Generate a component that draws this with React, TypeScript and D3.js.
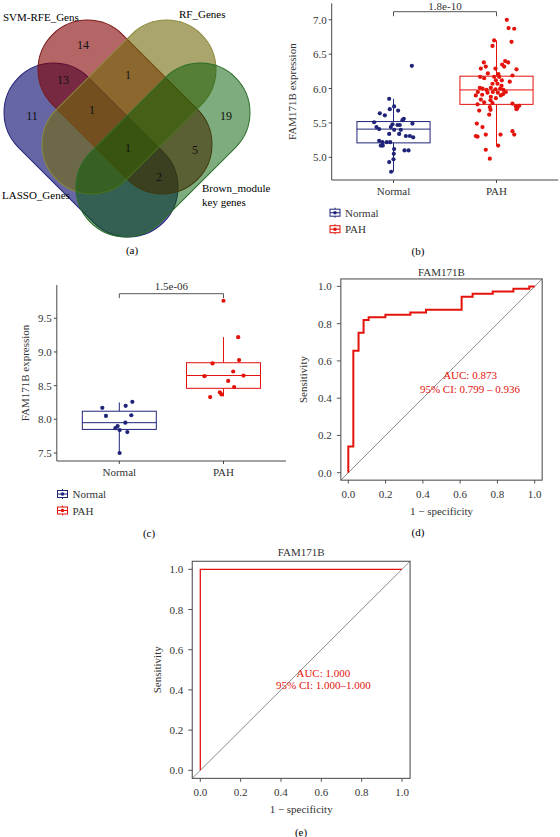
import React from 'react';
import * as d3 from 'd3';

const FONT = '"Liberation Serif", "DejaVu Serif", serif';
const NAVY = '#1f2478';
const RED = '#e3120b';
const AXIS = '#333333';

// ---------- Venn (a) ----------
const vennSetNames = ['LASSO_Genes', 'SVM-RFE_Gens', 'RF_Genes', 'Brown_module'];
const vennRegionNames = ['SVM-RFE', 'SVM-RFE&RF', 'LASSO&SVM-RFE', 'LASSO', 'LASSO&SVM-RFE&RF', 'Brown', 'All', 'SVM-RFE&Brown', 'LASSO&SVM-RFE&Brown'];
const vennCounts = [14, 1, 13, 11, 1, 19, 1, 5, 2];

// layout (positions only), drawn in this order
const vennShapeLayout = [
  { cx: 91, cy: 150, angle: 45, fill: '#000068', op: 0.6, stroke: '#23237a' },
  { cx: 125, cy: 107, angle: 45, fill: '#820000', op: 0.6, stroke: '#7c1a1a' },
  { cx: 129, cy: 107, angle: -45, fill: '#71690a', op: 0.6, stroke: '#8c8a3c' },
  { cx: 163, cy: 150, angle: -45, fill: '#005a00', op: 0.5, stroke: '#2a6e2a' },
];
const vennLabelPos = [[83, 45], [128, 75], [63, 80], [32, 116], [92, 110], [226, 116], [128, 148], [195, 150], [159, 177]];

// ---------- Box (b) ----------
const groups = ['Normal', 'PAH'];
const bNormalVals = [6.33,5.85,5.74,5.70,5.68,5.64,5.61,5.56,5.54,5.51,5.49,5.48,5.47,5.44,5.41,5.40,5.40,5.44,5.47,5.34,5.34,5.31,5.31,5.29,5.24,5.22,5.22,5.22,5.17,5.17,5.12,5.10,5.10,5.05,4.97,4.93,4.79];
const bNormalJit = [0.178,-0.042,0.006,-0.036,0.045,-0.133,-0.084,0.100,0.087,-0.188,0.184,-0.010,0.039,-0.165,-0.139,0.006,0.071,-0.026,0.061,-0.042,0.055,0.120,0.159,0.191,-0.139,-0.107,-0.065,-0.032,-0.123,-0.104,0.006,0.146,0.107,0.003,0.000,-0.042,-0.023];
const bPAHVals = [7.00,6.88,6.87,6.68,6.70,6.62,6.38,6.40,6.38,6.35,6.32,6.29,6.28,6.32,6.29,6.22,6.21,6.19,6.17,6.17,6.17,6.15,6.12,6.10,6.12,6.07,6.07,6.04,6.01,6.00,6.01,5.99,6.00,5.98,5.98,5.95,5.95,5.95,5.94,5.94,5.90,5.91,5.92,5.88,5.86,5.90,5.84,5.83,5.80,5.79,5.78,5.77,5.74,5.75,5.72,5.73,5.70,5.69,5.68,5.62,5.49,5.44,5.38,5.33,5.31,5.30,5.33,5.33,5.17,5.11,4.98];
const bPAHJit = [0.100,0.117,0.172,0.146,-0.023,-0.039,-0.123,0.084,0.113,0.055,-0.104,-0.152,0.194,0.074,-0.010,-0.084,0.019,0.155,-0.159,-0.023,0.026,-0.120,-0.006,0.129,0.052,-0.039,0.010,0.049,-0.162,-0.136,-0.055,-0.010,0.036,0.068,-0.097,-0.181,0.091,-0.036,0.013,-0.087,-0.201,-0.139,0.065,-0.055,-0.006,0.042,-0.152,-0.058,-0.120,-0.039,0.155,-0.184,0.188,0.220,0.204,-0.065,0.194,-0.058,-0.168,-0.071,-0.191,-0.136,0.155,0.172,-0.201,-0.184,-0.104,0.039,0.016,-0.104,-0.065];
// [lower whisker, q1, median, q3, upper whisker]
const bNormalBox = [4.79, 5.21, 5.41, 5.52, 5.85];
const bPAHBox = [5.17, 5.77, 5.98, 6.18, 6.70];
const bTicks = [5.0, 5.5, 6.0, 6.5, 7.0];
const bPValue = '1.8e-10';

// ---------- Box (c) ----------
const cNormalVals = [8.17, 8.05, 8.20, 8.26, 8.06, 7.95, 7.90, 7.87, 7.84, 7.81, 7.50];
const cNormalJit = [-0.163, -0.128, 0.061, 0.125, 0.115, 0.058, -0.016, -0.038, 0.003, 0.077, 0.003];
const cPAHVals = [9.76, 9.22, 8.88, 8.83, 8.71, 8.64, 8.65, 8.57, 8.48, 8.40, 8.37, 8.33];
const cPAHJit = [0.000, 0.141, 0.150, -0.105, 0.093, -0.182, 0.192, 0.045, 0.102, -0.035, -0.019, -0.128];
const cNormalBox = [7.50, 7.85, 7.95, 8.12, 8.25];
const cPAHBox = [8.34, 8.46, 8.65, 8.84, 9.22];
const cTicks = [7.5, 8.0, 8.5, 9.0, 9.5];
const cPValue = '1.5e-06';

// ---------- ROC (d), (e) ----------
const dFpr = [0, 0, 0.027, 0.027, 0.055, 0.055, 0.082, 0.082, 0.109, 0.109, 0.199, 0.199, 0.333, 0.333, 0.417, 0.417, 0.608, 0.608, 0.667, 0.667, 0.775, 0.775, 0.886, 0.886, 0.971, 0.971, 1];
const dTpr = [0, 0.14, 0.14, 0.655, 0.655, 0.751, 0.751, 0.819, 0.819, 0.834, 0.834, 0.848, 0.848, 0.86, 0.86, 0.875, 0.875, 0.945, 0.945, 0.96, 0.96, 0.973, 0.973, 0.987, 0.987, 1, 1];
const eFpr = [0, 0, 1];
const eTpr = [0, 1, 1];
const rocTicks = [0, 0.2, 0.4, 0.6, 0.8, 1.0];
const dAuc = ['AUC: 0.873', '95% CI: 0.799 – 0.936'];
const eAuc = ['AUC: 1.000', '95% CI: 1.000–1.000'];
const rocTitle = 'FAM171B';

function Venn() {
  const L = 106, r = 49.5;
  return (
    <g>
      {vennShapeLayout.map((s, i) => (
        <rect key={i} x={-(L / 2 + r)} y={-r} width={L + 2 * r} height={2 * r} rx={r} ry={r}
          transform={`translate(${s.cx},${s.cy}) rotate(${s.angle})`}
          fill={s.fill} fillOpacity={s.op} stroke={s.stroke} strokeWidth={1} />
      ))}
      {vennCounts.map((c, i) => (
        <text key={i} x={vennLabelPos[i][0]} y={vennLabelPos[i][1]} textAnchor="middle" dominantBaseline="central"
          fontSize={12} fill="#111">{c}</text>
      ))}
      <text x={3} y={17} dominantBaseline="central" fontSize={11}>{vennSetNames[1]}</text>
      <text x={179} y={14} dominantBaseline="central" fontSize={11}>{vennSetNames[2]}</text>
      <text x={2} y={195} dominantBaseline="central" fontSize={11}>{vennSetNames[0]}</text>
      <text x={202} y={188} dominantBaseline="central" fontSize={11}>{vennSetNames[3]}</text>
      <text x={202} y={202} dominantBaseline="central" fontSize={11}>key genes</text>
      <text x={132} y={250} textAnchor="middle" dominantBaseline="central" fontSize={11}>(a)</text>
    </g>
  );
}

type BoxProps = {
  xRange: [number, number]; yDomain: [number, number]; yRange: [number, number];
  ticks: number[]; normalVals: number[]; normalJit: number[]; pahVals: number[]; pahJit: number[];
  normalBox: number[]; pahBox: number[]; pval: string; bracketY: number; ylabX: number;
  legendX: number; legendY: number; panel: string; panelPos: [number, number]; pvalDy: number;
};

function BoxPanel(p: BoxProps) {
  const x = d3.scaleLinear().domain([0.4, 2.6]).range(p.xRange);
  const y = d3.scaleLinear().domain(p.yDomain).range(p.yRange);
  const axY = p.yRange[0];
  const axX = p.xRange[0];
  const hw = 0.355;
  const cols = [NAVY, RED];
  const boxes = [p.normalBox, p.pahBox];
  const pts = [[p.normalVals, p.normalJit], [p.pahVals, p.pahJit]];
  const yTop = p.yRange[1];
  return (
    <g>
      <line x1={axX} x2={axX} y1={yTop} y2={axY} stroke={AXIS} strokeWidth={0.9} />
      <line x1={axX} x2={p.xRange[1]} y1={axY} y2={axY} stroke={AXIS} strokeWidth={0.9} />
      {p.ticks.map(t => (
        <g key={t}>
          <line x1={axX - 3} x2={axX} y1={y(t)} y2={y(t)} stroke={AXIS} strokeWidth={0.9} />
          <text x={axX - 5} y={y(t)} textAnchor="end" dominantBaseline="central" fontSize={11} fill="#333">{t.toFixed(1)}</text>
        </g>
      ))}
      {groups.map((g, i) => (
        <g key={g}>
          <line x1={x(i + 1)} x2={x(i + 1)} y1={axY} y2={axY + 3} stroke={AXIS} strokeWidth={0.9} />
          <text x={x(i + 1)} y={axY + 11} textAnchor="middle" dominantBaseline="central" fontSize={11} fill="#333">{g}</text>
        </g>
      ))}
      <text transform={`translate(${p.ylabX},${(yTop + axY) / 2}) rotate(-90)`} textAnchor="middle" dominantBaseline="central" fontSize={11} fill="#333">FAM171B expression</text>
      {boxes.map((b, i) => (
        <g key={i} stroke={cols[i]} strokeWidth={1} fill="none">
          <line x1={x(i + 1)} x2={x(i + 1)} y1={y(b[0])} y2={y(b[1])} />
          <line x1={x(i + 1)} x2={x(i + 1)} y1={y(b[3])} y2={y(b[4])} />
          <rect x={x(i + 1 - hw)} y={y(b[3])} width={x(i + 1 + hw) - x(i + 1 - hw)} height={y(b[1]) - y(b[3])} fill="white" />
          <line x1={x(i + 1 - hw)} x2={x(i + 1 + hw)} y1={y(b[2])} y2={y(b[2])} />
        </g>
      ))}
      {pts.map(([vals, jit], i) => (
        <g key={i} fill={cols[i]}>
          {vals.map((v, k) => <circle key={k} cx={x(i + 1 + jit[k])} cy={y(v)} r={2.1} />)}
        </g>
      ))}
      <path d={`M${x(1)},${p.bracketY + 4.5}V${p.bracketY}H${x(2)}V${p.bracketY + 4.5}`} fill="none" stroke="#555" strokeWidth={1} />
      <text x={(x(1) + x(2)) / 2} y={p.bracketY - p.pvalDy} textAnchor="middle" fontSize={11} fill="#333">{p.pval}</text>
      {groups.map((g, i) => {
        const ly = p.legendY + i * 16.5;
        return (
          <g key={g}>
            <line x1={p.legendX + 5} x2={p.legendX + 5} y1={ly - 5} y2={ly + 5} stroke={cols[i]} strokeWidth={1} />
            <rect x={p.legendX} y={ly - 3.5} width={10} height={7} fill="white" stroke={cols[i]} strokeWidth={1} />
            <line x1={p.legendX} x2={p.legendX + 10} y1={ly} y2={ly} stroke={cols[i]} strokeWidth={1} />
            <circle cx={p.legendX + 5} cy={ly} r={1.8} fill={cols[i]} />
            <text x={p.legendX + 15} y={ly} dominantBaseline="central" fontSize={11} fill="#333">{g}</text>
          </g>
        );
      })}
      <text x={p.panelPos[0]} y={p.panelPos[1]} textAnchor="middle" dominantBaseline="central" fontSize={11}>{p.panel}</text>
    </g>
  );
}

type RocProps = {
  x0: number; x1: number; y0: number; y1: number; fpr: number[]; tpr: number[];
  auc: string[]; aucPos: [number, number, number]; lw: number; panel: string; panelPos: [number, number];
  titleY: number; ylabX: number;
};

function RocPanel(p: RocProps) {
  const per = (p.x1 - p.x0);
  const x = d3.scaleLinear().domain([-0.04, 1.04]).range([p.x0 - 0.04 * per, p.x1 + 0.04 * per]);
  const perY = (p.y0 - p.y1);
  const y = d3.scaleLinear().domain([-0.04, 1.04]).range([p.y0 + 0.04 * perY, p.y1 - 0.04 * perY]);
  const line = d3.line<number>().x((_, i) => x(p.fpr[i])).y(v => y(v));
  const left = x(-0.04), right = x(1.04), top = y(1.04), bottom = y(-0.04);
  return (
    <g>
      <line x1={left} y1={bottom} x2={right} y2={top} stroke="#8a8a8a" strokeWidth={1} />
      <path d={line(p.tpr) || ''} fill="none" stroke={RED} strokeWidth={p.lw} />
      <rect x={left} y={top} width={right - left} height={bottom - top} fill="none" stroke="#444" strokeWidth={1} />
      {rocTicks.map(t => (
        <g key={t}>
          <line x1={left - 4} x2={left} y1={y(t)} y2={y(t)} stroke="#444" strokeWidth={0.9} />
          <text x={left - 9} y={y(t)} textAnchor="end" dominantBaseline="central" fontSize={11} fill="#333">{t.toFixed(1)}</text>
          <line x1={x(t)} x2={x(t)} y1={bottom} y2={bottom + 3.5} stroke="#444" strokeWidth={0.9} />
          <text x={x(t)} y={bottom + 13.5} textAnchor="middle" dominantBaseline="central" fontSize={11} fill="#333">{t.toFixed(1)}</text>
        </g>
      ))}
      <text x={(left + right) / 2} y={p.titleY} textAnchor="middle" dominantBaseline="central" fontSize={11} fill="#333">{rocTitle}</text>
      <text x={(left + right) / 2} y={bottom + 31} textAnchor="middle" dominantBaseline="central" fontSize={11} fill="#333">1 − specificity</text>
      <text transform={`translate(${p.ylabX},${(top + bottom) / 2}) rotate(-90)`} textAnchor="middle" dominantBaseline="central" fontSize={11} fill="#333">Sensitivity</text>
      <text x={x(p.aucPos[0])} y={y(p.aucPos[1])} textAnchor="middle" dominantBaseline="central" fontSize={11} fill={RED}>{p.auc[0]}</text>
      <text x={x(p.aucPos[0])} y={y(p.aucPos[2])} textAnchor="middle" dominantBaseline="central" fontSize={11} fill={RED}>{p.auc[1]}</text>
      <text x={p.panelPos[0]} y={p.panelPos[1]} textAnchor="middle" dominantBaseline="central" fontSize={11}>{p.panel}</text>
    </g>
  );
}

export default function App() {
  return (
    <svg width={560} height={837} viewBox="0 0 560 837"
      style={{ position: 'absolute', left: 0, top: 0, background: 'white' }}
      fontFamily={FONT}>
      <rect x={0} y={0} width={560} height={837} fill="white" />
      <Venn />
      <BoxPanel xRange={[331.7, 558.3]} yDomain={[4.67, 7.24]} yRange={[180, 3.3]} ticks={bTicks}
        normalVals={bNormalVals} normalJit={bNormalJit} pahVals={bPAHVals} pahJit={bPAHJit}
        normalBox={bNormalBox} pahBox={bPAHBox} pval={bPValue} bracketY={11.7} pvalDy={2.2} ylabX={292}
        legendX={330} legendY={212.7} panel="(b)" panelPos={[418, 251]} />
      <BoxPanel xRange={[56.8, 286]} yDomain={[7.381, 9.994]} yRange={[461, 285]} ticks={cTicks}
        normalVals={cNormalVals} normalJit={cNormalJit} pahVals={cPAHVals} pahJit={cPAHJit}
        normalBox={cNormalBox} pahBox={cPAHBox} pval={cPValue} bracketY={293.7} pvalDy={3.5} ylabX={25}
        legendX={57.5} legendY={494} panel="(c)" panelPos={[149, 533]} />
      <RocPanel x0={348.3} x1={534.7} y0={472.7} y1={286.4} fpr={dFpr} tpr={dTpr} auc={dAuc}
        aucPos={[0.653, 0.524, 0.451]} lw={2} panel="(d)" panelPos={[418, 532]} titleY={271.7} ylabX={303} />
      <RocPanel x0={200.3} x1={402} y0={770.3} y1={569.3} fpr={eFpr} tpr={eTpr} auc={eAuc}
        aucPos={[0.61, 0.486, 0.423]} lw={1.3} panel="(e)" panelPos={[301, 831.7]} titleY={552.3} ylabX={157} />
    </svg>
  );
}
